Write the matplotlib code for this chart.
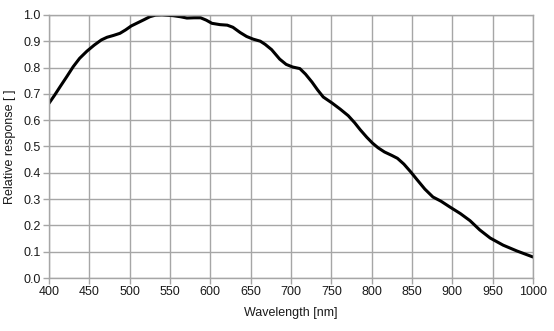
import numpy as np
import matplotlib
matplotlib.use("Agg")
import matplotlib.pyplot as plt

plt.rcParams['font.family'] = ['Liberation Sans', 'DejaVu Sans']

# curve
wavelength = [400, 407, 414, 422, 430, 438, 447, 456, 465, 472, 480, 488, 495, 502,
              510, 518, 525, 532, 540, 554, 563, 571, 580, 588, 595, 602, 612, 621,
              628, 637, 645, 653, 662, 668, 676, 686, 694, 702, 711, 718, 726, 733,
              740, 751, 761, 771, 779, 786, 794, 801, 808, 816, 825, 832, 840, 848,
              856, 866, 876, 886, 897, 910, 922, 934, 947, 963, 980, 1000]
response = [0.664, 0.695, 0.728, 0.765, 0.803, 0.835, 0.862, 0.885, 0.905, 0.915,
            0.922, 0.930, 0.943, 0.958, 0.970, 0.982, 0.993, 0.999, 1.000, 0.997,
            0.993, 0.988, 0.989, 0.989, 0.980, 0.968, 0.963, 0.961, 0.953, 0.933,
            0.918, 0.908, 0.900, 0.888, 0.868, 0.832, 0.812, 0.802, 0.796, 0.775,
            0.745, 0.715, 0.688, 0.665, 0.642, 0.617, 0.590, 0.563, 0.535, 0.513,
            0.495, 0.479, 0.466, 0.455, 0.433, 0.405, 0.375, 0.338, 0.308, 0.292,
            0.270, 0.245, 0.218, 0.183, 0.152, 0.125, 0.103, 0.080]

x_ticks = np.arange(400, 1001, 50)
y_ticks = np.arange(0, 1.01, 0.1)

fig = plt.figure(figsize=(5.54, 3.31), dpi=100)
ax = fig.add_axes([0.0884, 0.160, 0.8736, 0.795])

ax.plot(wavelength, response, color='black', lw=2.2,
        solid_joinstyle='round', solid_capstyle='round')

ax.set_xlim(400, 1000)
ax.set_ylim(0, 1.0)
ax.set_xticks(x_ticks)
ax.set_yticks(y_ticks)
ax.set_yticklabels([f"{v:.1f}" for v in y_ticks])
ax.grid(True, color='#a6a6a6', lw=1)
ax.set_axisbelow(True)
for s in ax.spines.values():
    s.set_color('#a6a6a6')
    s.set_linewidth(1)
ax.tick_params(colors='#a6a6a6', labelcolor='#1a1a1a', labelsize=9, length=4, width=1, pad=2)

ax.set_xlabel('Wavelength [nm]', fontsize=9, labelpad=6, color='#1a1a1a')
ax.set_ylabel('Relative response [ ]', fontsize=9, labelpad=5, color='#1a1a1a')

fig.savefig('out.png', dpi=100)
